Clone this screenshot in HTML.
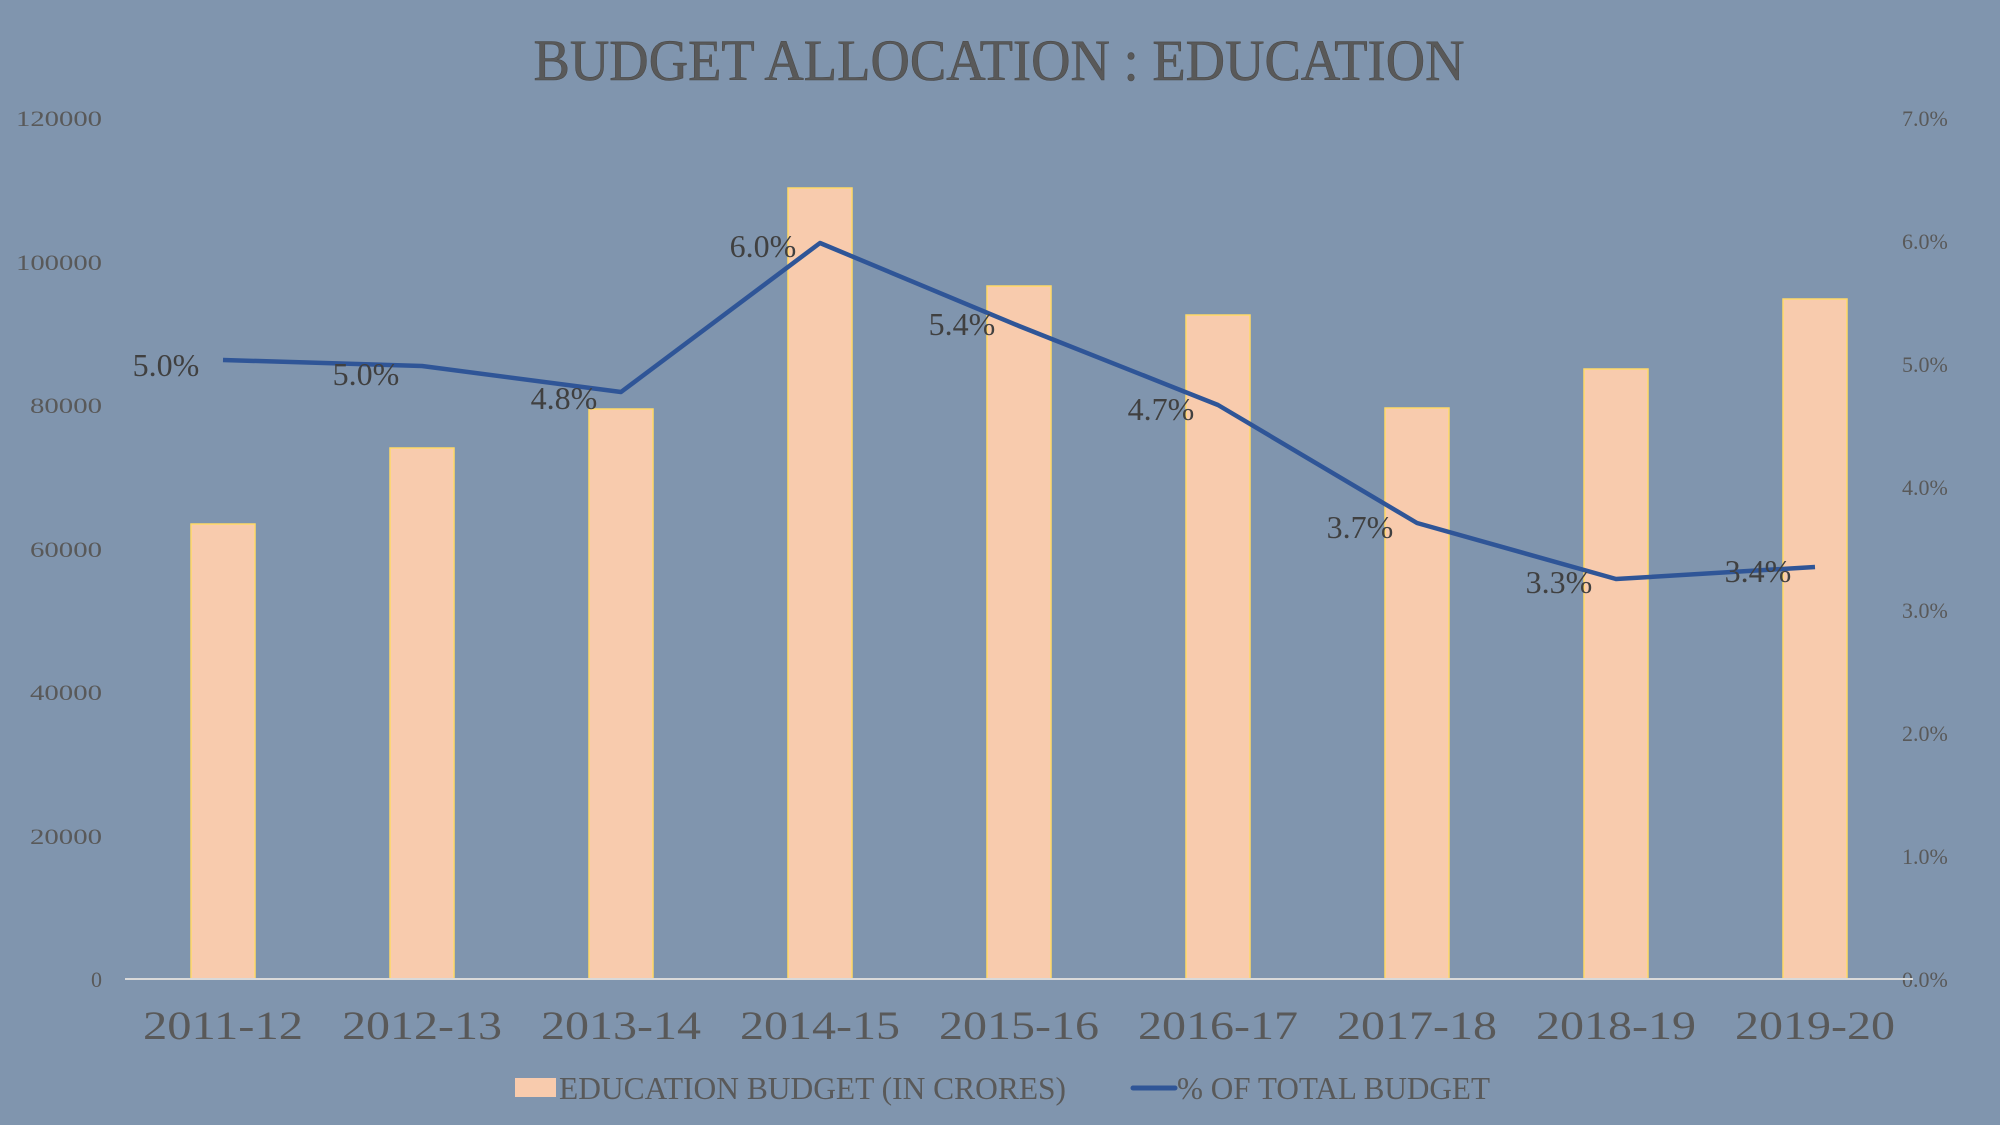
<!DOCTYPE html>
<html><head><meta charset="utf-8"><style>
html,body{margin:0;padding:0;background:#8095ae;}
svg{display:block;}
text{font-family:"Liberation Serif",serif;}
</style></head><body>
<svg width="2000" height="1125" viewBox="0 0 2000 1125" xmlns="http://www.w3.org/2000/svg">
<rect width="2000" height="1125" fill="#8095ae"/>
<text x="999" y="80" text-anchor="middle" font-size="58" fill="#595959" stroke="#4a4a4a" stroke-width="0.6" textLength="931" lengthAdjust="spacingAndGlyphs">BUDGET ALLOCATION : EDUCATION</text>
<g font-size="22" fill="#595959" text-anchor="end">
<text x="102" y="126" textLength="86" lengthAdjust="spacingAndGlyphs">120000</text>
<text x="102" y="270" textLength="86" lengthAdjust="spacingAndGlyphs">100000</text>
<text x="102" y="413" textLength="72" lengthAdjust="spacingAndGlyphs">80000</text>
<text x="102" y="557" textLength="72" lengthAdjust="spacingAndGlyphs">60000</text>
<text x="102" y="700" textLength="72" lengthAdjust="spacingAndGlyphs">40000</text>
<text x="102" y="844" textLength="72" lengthAdjust="spacingAndGlyphs">20000</text>
<text x="102" y="987">0</text>
</g>
<g font-size="22" fill="#595959">
<text x="1902" y="126">7.0%</text>
<text x="1902" y="249">6.0%</text>
<text x="1902" y="372">5.0%</text>
<text x="1902" y="495">4.0%</text>
<text x="1902" y="618">3.0%</text>
<text x="1902" y="741">2.0%</text>
<text x="1902" y="864">1.0%</text>
<text x="1902" y="987">0.0%</text>
</g>
<g fill="#f8cbad" stroke="#ffd966" stroke-width="1.5">
<rect x="191" y="524" width="64" height="455"/>
<rect x="390" y="448" width="64" height="531"/>
<rect x="589" y="409" width="64" height="570"/>
<rect x="788" y="188" width="64" height="791"/>
<rect x="987" y="286" width="64" height="693"/>
<rect x="1186" y="315" width="64" height="664"/>
<rect x="1385" y="408" width="64" height="571"/>
<rect x="1584" y="369" width="64" height="610"/>
<rect x="1783" y="299" width="64" height="680"/>
</g>
<line x1="125" y1="979" x2="1913" y2="979" stroke="#d9d9d9" stroke-width="2"/>
<polyline points="223,360 422,366 621,392 820,243 1019,326 1218,405 1417,523 1616,579 1815,567" fill="none" stroke="#2f5597" stroke-width="4.5" stroke-linejoin="round"/>
<g font-size="32" fill="#404040" text-anchor="middle">
<text x="166" y="376">5.0%</text>
<text x="366" y="385">5.0%</text>
<text x="564" y="409">4.8%</text>
<text x="763" y="257">6.0%</text>
<text x="962" y="335">5.4%</text>
<text x="1161" y="420">4.7%</text>
<text x="1360" y="538">3.7%</text>
<text x="1559" y="593">3.3%</text>
<text x="1758" y="582">3.4%</text>
</g>
<g font-size="40" fill="#595959" text-anchor="middle">
<text x="223" y="1039" textLength="160" lengthAdjust="spacingAndGlyphs">2011-12</text>
<text x="422" y="1039" textLength="160" lengthAdjust="spacingAndGlyphs">2012-13</text>
<text x="621" y="1039" textLength="160" lengthAdjust="spacingAndGlyphs">2013-14</text>
<text x="820" y="1039" textLength="160" lengthAdjust="spacingAndGlyphs">2014-15</text>
<text x="1019" y="1039" textLength="160" lengthAdjust="spacingAndGlyphs">2015-16</text>
<text x="1218" y="1039" textLength="160" lengthAdjust="spacingAndGlyphs">2016-17</text>
<text x="1417" y="1039" textLength="160" lengthAdjust="spacingAndGlyphs">2017-18</text>
<text x="1616" y="1039" textLength="160" lengthAdjust="spacingAndGlyphs">2018-19</text>
<text x="1815" y="1039" textLength="160" lengthAdjust="spacingAndGlyphs">2019-20</text>
</g>
<rect x="515" y="1078" width="41" height="19" fill="#f8cbad"/>
<text x="559" y="1099" font-size="32" fill="#595959" textLength="507" lengthAdjust="spacingAndGlyphs">EDUCATION BUDGET (IN CRORES)</text>
<line x1="1133" y1="1088" x2="1175" y2="1088" stroke="#2f5597" stroke-width="5" stroke-linecap="round"/>
<text x="1177" y="1099" font-size="32" fill="#595959" textLength="313" lengthAdjust="spacingAndGlyphs">% OF TOTAL BUDGET</text>
</svg>
</body></html>
